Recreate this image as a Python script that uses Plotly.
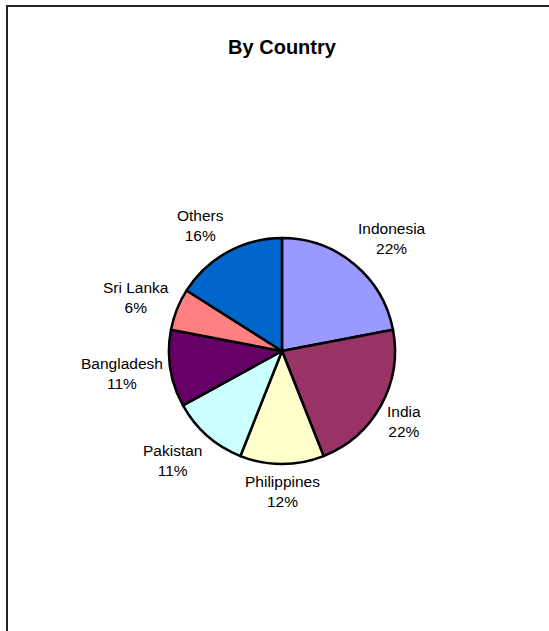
import math
import plotly.graph_objects as go

# Share of total by country
countries = ["Indonesia", "India", "Philippines", "Pakistan", "Bangladesh", "Sri Lanka", "Others"]
shares = [22, 22, 12, 11, 11, 6, 16]
slice_colors = ["#9999FF", "#993366", "#FFFFCC", "#CCFFFF", "#660066", "#FF8080", "#0066CC"]

W, H = 549, 631
FONT = "Liberation Sans, Arial, sans-serif"
LABEL_SIZE = 15.5

# Pie placement in pixels (centre and radius) -> plotly domain
CX, CY, R = 282.0, 351.0, 113.0
pie_domain = dict(x=[(CX - R) / W, (CX + R) / W], y=[1 - (CY + R) / H, 1 - (CY - R) / H])

fig = go.Figure(
    go.Pie(
        labels=countries,
        values=shares,
        sort=False,
        direction="clockwise",
        rotation=0,
        marker=dict(colors=slice_colors, line=dict(color="black", width=2.5)),
        textinfo="none",
        domain=pie_domain,
        showlegend=False,
        hoverinfo="label+percent",
    )
)

# Approximate Arial advance widths (em units) for sizing the label boxes
_narrow = {"i": 0.222, "l": 0.222, "j": 0.222, "I": 0.278, "t": 0.278, "f": 0.278,
           "r": 0.333, " ": 0.278, "s": 0.5, "k": 0.5, "%": 0.889, "O": 0.778}


def text_width(s, size):
    em = 0.0
    for ch in s:
        if ch in _narrow:
            em += _narrow[ch]
        elif ch.isupper():
            em += 0.667
        else:
            em += 0.556
    return em * size


def clip(v, lo=-1.0, hi=1.0):
    return max(lo, min(hi, v))


# Outside-end data labels: anchored on a ring just beyond the rim at the
# slice bisector, then pushed clear of the pie by the label box size.
LABEL_RING = R + 7.5
HALF_BLOCK = 20.0
total = sum(shares)
annotations = []
cum = 0.0
for name, v in zip(countries, shares):
    mid = (cum + v / 2) / total * 2 * math.pi
    cum += v
    ux, uy = math.sin(mid), -math.cos(mid)  # screen direction, y pointing down
    pct = f"{round(100 * v / total)}%"
    w = max(text_width(name, LABEL_SIZE), text_width(pct, LABEL_SIZE))
    px = CX + ux * LABEL_RING + clip(4 * ux) * w / 2
    py = CY + uy * LABEL_RING + clip(1.3 * uy) * HALF_BLOCK
    annotations.append(
        dict(
            x=px / W,
            y=1 - py / H,
            xref="paper",
            yref="paper",
            text=f"{name}<br>{pct}",
            showarrow=False,
            xanchor="center",
            yanchor="middle",
            align="center",
            font=dict(family=FONT, size=LABEL_SIZE, color="black"),
        )
    )

fig.update_layout(
    width=W,
    height=H,
    margin=dict(l=0, r=0, t=0, b=0),
    paper_bgcolor="white",
    plot_bgcolor="white",
    title=dict(
        text="<b>By Country</b>",
        x=282 / W,
        xanchor="center",
        y=1 - 47 / H,
        yanchor="middle",
        font=dict(family=FONT, size=20, color="black"),
    ),
    annotations=annotations,
    shapes=[
        dict(
            type="rect",
            xref="paper",
            yref="paper",
            x0=7 / W,
            x1=1.05,
            y0=-0.05,
            y1=1 - 6 / H,
            line=dict(color="#222222", width=2),
            fillcolor="rgba(0,0,0,0)",
        )
    ],
)

fig.write_html("out.html")
